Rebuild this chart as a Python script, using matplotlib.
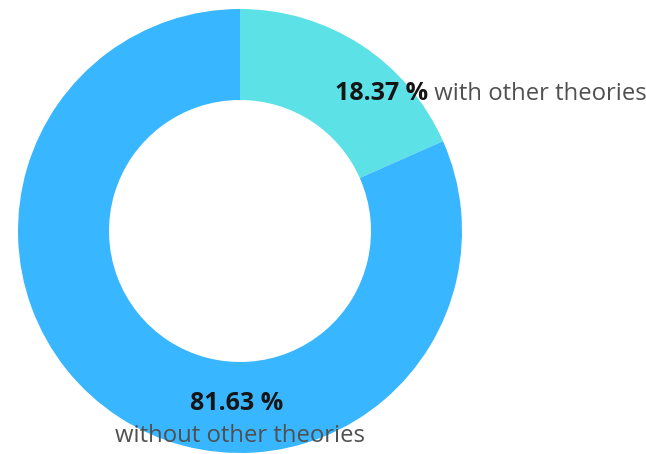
import matplotlib.pyplot as plt

# Shares of the two groups (percent)
labels = ['with other theories', 'without other theories']
shares = [18.37, 81.63]
slice_colors = ['#5ce1e6', '#38b6ff']

plt.rcParams['font.family'] = ['Open Sans', 'DejaVu Sans']

fig = plt.figure(figsize=(6.46, 4.54), dpi=100)
ax = fig.add_axes([0, 0, 1, 1])

# donut, first slice starts at 12 o'clock and runs clockwise
ax.pie(shares, colors=slice_colors, startangle=90, counterclock=False,
       center=(240, 223), radius=222, wedgeprops=dict(width=91, linewidth=0))

ax.set_xlim(0, 646)
ax.set_ylim(0, 454)
ax.set_aspect('equal')
ax.axis('off')

# top label: bold value followed by plain text
t1 = ax.text(335, 454 - 93, f'{shares[0]:.2f} %', fontsize=18, fontweight='bold',
             color='#151515', ha='left', va='center')
ax.annotate(' ' + labels[0], xy=(1, 0), xycoords=t1, va='bottom', ha='left',
            fontsize=17.2, color='#505050')

# bottom label, two lines
ax.text(237, 454 - 403, f'{shares[1]:.2f} %', fontsize=18, fontweight='bold',
        color='#151515', ha='center', va='center')
ax.text(240, 454 - 436, labels[1], fontsize=17.2, color='#505050',
        ha='center', va='center')

plt.savefig('out.png', dpi=100)
plt.close()
